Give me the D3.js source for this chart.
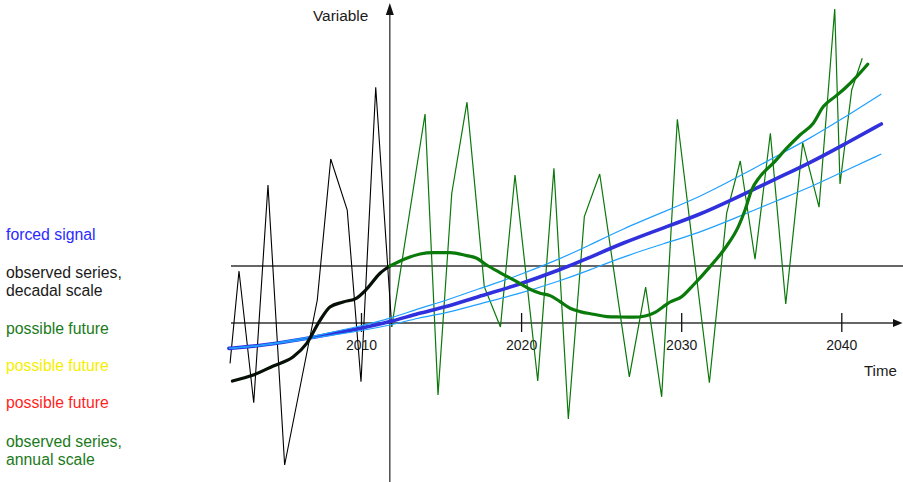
<!DOCTYPE html>
<html>
<head>
<meta charset="utf-8">
<script src="https://cdn.jsdelivr.net/npm/d3@7"></script>
<style>
  html, body { margin: 0; padding: 0; background: #fff; }
  svg { display: block; font-family: "Liberation Sans", Arial, Helvetica, sans-serif; }
</style>
</head>
<body>
<svg id="chart" width="903" height="482"></svg>
<script>
// Annual observed series (year, value), up to the present
const observedAnnual = [
  [2001.82, -2.02], [2002.38, 2.6], [2003.30, -3.99], [2004.19, 6.9],
  [2005.23, -7.1], [2007.27, 1.15], [2008.11, 8.2], [2009.14, 5.65],
  [2010.0, -2.94], [2010.92, 11.79], [2011.92, -0.19]
];

// One possible annual future, continuing from the last observation
const futureAnnual = [
  [2011.92, -0.19], [2014.0, 10.45], [2014.81, -3.6], [2015.67, 6.49],
  [2016.62, 11.04], [2017.70, 1.82], [2018.71, -0.2], [2019.62, 7.4],
  [2021.04, -2.9], [2022.05, 7.74], [2022.95, -4.8], [2023.95, 5.32],
  [2024.91, 7.45], [2026.76, -2.69], [2027.78, 1.79], [2028.78, -3.69],
  [2029.76, 10.19], [2031.76, -2.99], [2032.84, 5.49], [2033.69, 8.1],
  [2034.61, 3.19], [2035.57, 9.49], [2036.53, 0.95], [2037.59, 9.02],
  [2038.61, 5.79], [2039.59, 15.7], [2039.92, 6.95], [2040.65, 11.65],
  [2041.31, 13.24]
];

// Decadal-scale observed series
const observedDecadal = [
  [2001.97, -2.9], [2003.27, -2.6], [2004.52, -2.15], [2005.77, -1.69],
  [2006.61, -1.02], [2007.44, 0.13], [2008.06, 0.8], [2008.89, 1.05],
  [2009.73, 1.25], [2010.36, 1.7], [2011.19, 2.49], [2011.81, 2.85]
];

// Decadal-scale possible future
const futureDecadal = [
  [2011.81, 2.85], [2012.85, 3.24], [2013.69, 3.45], [2014.52, 3.52],
  [2015.56, 3.52], [2016.6, 3.37], [2017.23, 3.24], [2017.85, 2.9],
  [2018.68, 2.52], [2019.73, 2.07], [2020.56, 1.69], [2021.19, 1.49],
  [2021.81, 1.37], [2022.43, 1.07], [2023.06, 0.74], [2023.68, 0.57],
  [2024.51, 0.44], [2025.35, 0.32], [2026.18, 0.3], [2027.01, 0.29],
  [2027.75, 0.35], [2028.37, 0.53], [2028.89, 0.82], [2029.31, 1.05],
  [2030.04, 1.32], [2030.76, 1.9], [2031.8, 2.82], [2032.84, 3.85],
  [2033.57, 4.82], [2033.99, 5.65], [2034.4, 6.65], [2034.92, 7.32],
  [2035.75, 7.99], [2036.59, 8.74], [2037.42, 9.4], [2038.25, 9.99],
  [2038.88, 10.82], [2039.61, 11.32], [2040.23, 11.74], [2040.96, 12.32],
  [2041.65, 12.94]
];

// Forced signal and its spread
const forcedYears = [2001.75, 2003.6, 2005.7, 2007.75, 2010, 2011.9, 2013.6, 2015.25, 2017.3, 2019.8,
                     2022.4, 2024.2, 2026.3, 2029, 2031.1, 2033.15, 2036.2, 2037.9, 2040, 2042.5];
const forcedCentre = [-1.27, -1.15, -0.9, -0.6, -0.27, 0.07, 0.49, 0.79, 1.32, 1.9,
                      2.65, 3.24, 3.99, 4.79, 5.4, 6.15, 7.32, 7.95, 8.85, 9.95];
const forcedUpper  = [-1.27, -1.14, -0.87, -0.54, -0.15, 0.24, 0.72, 1.10, 1.70, 2.36,
                      3.20, 3.86, 4.69, 5.59, 6.29, 7.13, 8.45, 9.17, 10.18, 11.45];
const forcedLower  = [-1.27, -1.16, -0.93, -0.66, -0.39, -0.10, 0.26, 0.48, 0.94, 1.44,
                      2.10, 2.62, 3.29, 3.99, 4.51, 5.17, 6.19, 6.73, 7.52, 8.45];

const tickYears = [2010, 2020, 2030, 2040];
const presentYear = 2011.8;
const presentLevel = 2.85;

const legendLabels = [
  ["forced signal"],
  ["observed series,", "decadal scale"],
  ["possible future"],
  ["possible future"],
  ["possible future"],
  ["observed series,", "annual scale"]
];
const legendColors = ["#2a2aff", "#1a1a1a", "#1b7a1b", "#f6ee00", "#ff1f1f", "#1b7a1b"];

const svg = d3.select("#chart");
const x = d3.scaleLinear().domain([2010, 2040]).range([361, 841.3]);
const y = d3.scaleLinear().domain([-8, 16]).range([483, 3]);

const axisColor = "#333";
const xLeft = 231, xRight = 903;
const px = x(presentYear);

// horizontal reference at the present decadal level
svg.append("line")
  .attr("x1", xLeft).attr("x2", xRight)
  .attr("y1", y(presentLevel)).attr("y2", y(presentLevel))
  .attr("stroke", axisColor).attr("stroke-width", 1.3);

// time axis with arrow
svg.append("line")
  .attr("x1", xLeft).attr("x2", xRight - 9)
  .attr("y1", y(0)).attr("y2", y(0))
  .attr("stroke", axisColor).attr("stroke-width", 1.3);
svg.append("path")
  .attr("d", `M${xRight - 10},${y(0) - 4}L${xRight - 0.5},${y(0)}L${xRight - 10},${y(0) + 4}Z`)
  .attr("fill", "#111");

// variable axis with arrow at the present
svg.append("line")
  .attr("x1", px).attr("x2", px)
  .attr("y1", 14).attr("y2", 482)
  .attr("stroke", axisColor).attr("stroke-width", 1.3);
svg.append("path")
  .attr("d", `M${px - 4},15L${px},3L${px + 4},15Z`)
  .attr("fill", "#111");

// ticks crossing the time axis
const axis = d3.axisBottom(x).tickValues(tickYears).tickSize(19).tickFormat(d3.format("d"));
const gAxis = svg.append("g").attr("transform", `translate(0,${y(0) - 10})`).call(axis);
gAxis.select(".domain").remove();
gAxis.selectAll(".tick line").attr("stroke", "#111").attr("stroke-width", 1.3);
gAxis.selectAll(".tick text")
  .attr("y", 37).attr("dy", null)
  .attr("font-size", 14).attr("fill", "#1a1a1a")
  .attr("font-family", "Liberation Sans, Arial, sans-serif");

svg.append("text").attr("x", 313).attr("y", 21)
  .attr("font-size", 15.4).attr("fill", "#1a1a1a").text("Variable");
svg.append("text").attr("x", 864).attr("y", 376)
  .attr("font-size", 15).attr("fill", "#1a1a1a").text("Time");

const straight = d3.line().x(d => x(d[0])).y(d => y(d[1]));
const smooth = d3.line().x(d => x(d[0])).y(d => y(d[1])).curve(d3.curveMonotoneX);
const verySmooth = d3.line().x(d => x(d[0])).y(d => y(d[1])).curve(d3.curveBasis);

// annual series
svg.append("path").datum(observedAnnual)
  .attr("d", straight).attr("fill", "none")
  .attr("stroke", "#000").attr("stroke-width", 1.1).attr("stroke-linejoin", "miter");
svg.append("path").datum(futureAnnual)
  .attr("d", straight).attr("fill", "none")
  .attr("stroke", "#0a780a").attr("stroke-width", 1.2).attr("stroke-linejoin", "miter");

// forced signal with spread
const forced = d3.zip(forcedYears, forcedCentre);
const upper = d3.zip(forcedYears, forcedUpper);
const lower = d3.zip(forcedYears, forcedLower);
svg.append("path").datum(forced)
  .attr("d", verySmooth).attr("fill", "none")
  .attr("stroke", "#3030dd").attr("stroke-width", 3.6).attr("stroke-linecap", "round");
[upper, lower].forEach(s => {
  svg.append("path").datum(s)
    .attr("d", verySmooth).attr("fill", "none")
    .attr("stroke", "#1ea0ff").attr("stroke-width", 1.2);
});

// decadal series
svg.append("path").datum(observedDecadal)
  .attr("d", smooth).attr("fill", "none")
  .attr("stroke", "#061006").attr("stroke-width", 3.2).attr("stroke-linecap", "round");
svg.append("path").datum(futureDecadal)
  .attr("d", smooth).attr("fill", "none")
  .attr("stroke", "#0a7a0a").attr("stroke-width", 3.2).attr("stroke-linecap", "round");

// legend
const legendBaselines = [240, 278.3, 334, 371, 408.3, 446.7];
const legend = svg.append("g");
legendLabels.forEach((lines, i) => {
  const t = legend.append("text")
    .attr("x", 6).attr("y", legendBaselines[i])
    .attr("font-size", 15.8).attr("fill", legendColors[i]);
  lines.forEach((s, j) => {
    t.append("tspan").attr("x", 6).attr("dy", j === 0 ? 0 : 18).text(s);
  });
});
</script>
</body>
</html>
